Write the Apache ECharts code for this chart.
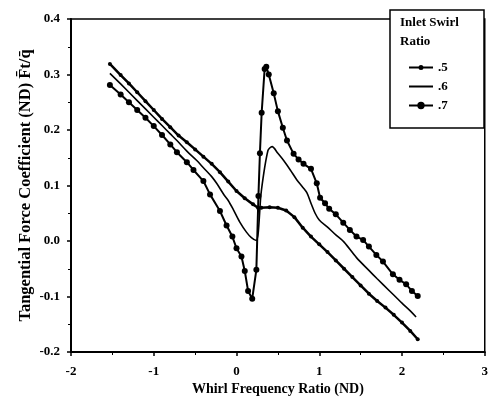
<!DOCTYPE html>
<html>
<head>
<meta charset="utf-8">
<script src="https://cdn.jsdelivr.net/npm/echarts@6/dist/echarts.min.js"></script>
<style>
  html, body { margin: 0; padding: 0; background: #fff; }
  #chart { width: 491px; height: 401px; }
</style>
</head>
<body>
<div id="chart"></div>
<script>
// whirl frequency ratio / tangential force coefficient
const x05 = [-1.53, -1.4, -1.3, -1.2, -1.1, -1.0, -0.9, -0.8, -0.7, -0.6, -0.5, -0.4, -0.3, -0.2, -0.1, 0.0, 0.1, 0.2, 0.26,
  0.3, 0.4, 0.5, 0.6, 0.7, 0.8, 0.9, 1.0, 1.1, 1.2, 1.3, 1.4, 1.5, 1.6, 1.7, 1.8, 1.9, 2.0, 2.1, 2.19];
const y05 = [0.319, 0.299, 0.284, 0.268, 0.252, 0.236, 0.220, 0.205, 0.190, 0.178, 0.165, 0.152, 0.139, 0.124, 0.107, 0.090, 0.077, 0.066, 0.060,
  0.060, 0.061, 0.060, 0.055, 0.043, 0.024, 0.008, -0.006, -0.020, -0.035, -0.050, -0.065, -0.080, -0.095, -0.108, -0.120, -0.133, -0.147, -0.162, -0.177];

const x06 = [-1.53, -1.4, -1.2, -1.0, -0.9, -0.8, -0.72, -0.6, -0.48, -0.4, -0.3, -0.24, -0.15, -0.1, -0.04, 0.04, 0.12, 0.18, 0.24,
  0.3, 0.38, 0.43, 0.5, 0.57, 0.65, 0.73, 0.8, 0.85, 0.9, 0.95, 1.0, 1.1, 1.2, 1.3, 1.45, 1.6, 1.7, 1.85, 2.0, 2.1, 2.17];
const y06 = [0.302, 0.283, 0.253, 0.223, 0.208, 0.193, 0.181, 0.162, 0.145, 0.132, 0.116, 0.104, 0.083, 0.073, 0.057, 0.034, 0.016, 0.006, 0.001,
  0.090, 0.163, 0.170, 0.158, 0.145, 0.128, 0.110, 0.097, 0.087, 0.068, 0.050, 0.038, 0.025, 0.011, -0.002, -0.030, -0.053, -0.068, -0.090, -0.112, -0.126, -0.137];

const x07 = [-1.53, -1.4, -1.3, -1.2, -1.1, -1.0, -0.9, -0.8, -0.72, -0.6, -0.52, -0.4, -0.32, -0.2, -0.12, -0.05, 0.0, 0.06, 0.1, 0.14, 0.19,
  0.24, 0.265, 0.283, 0.304, 0.34, 0.36, 0.39, 0.45, 0.5, 0.56, 0.61, 0.69, 0.75, 0.81, 0.9, 0.97, 1.01, 1.07, 1.12, 1.2, 1.29, 1.37, 1.45,
  1.53, 1.6, 1.69, 1.77, 1.89, 1.97, 2.05, 2.12, 2.19];
const y07 = [0.281, 0.264, 0.250, 0.236, 0.222, 0.207, 0.191, 0.174, 0.160, 0.142, 0.128, 0.108, 0.084, 0.054, 0.028, 0.008, -0.013, -0.028, -0.054, -0.090, -0.104,
  -0.052, 0.081, 0.158, 0.231, 0.310, 0.314, 0.300, 0.266, 0.234, 0.204, 0.181, 0.157, 0.147, 0.139, 0.130, 0.104, 0.078, 0.068, 0.058, 0.048, 0.033, 0.020, 0.008,
  0.002, -0.010, -0.025, -0.037, -0.060, -0.070, -0.078, -0.090, -0.099];

const seriesNames = ['.5', '.6', '.7'];

function pairs(xs, ys) {
  return xs.map((x, i) => [x, ys[i]]);
}

const font = 'Liberation Serif';
const chart = echarts.init(document.getElementById('chart'));

// legend glyphs: line with small dot / plain line / line with big dot
// (circles drawn clockwise like the bar so the fill doesn't cancel out)
const icons = [
  'path://M0,4h24v2h-24z M9.5,5a2.5,2.5 0 1,1 5,0a2.5,2.5 0 1,1 -5,0z',
  'path://M0,4h24v2h-24z',
  'path://M0,4h24v2h-24z M8.3,5a3.7,3.7 0 1,1 7.4,0a3.7,3.7 0 1,1 -7.4,0z'
];

const option = {
  animation: false,
  backgroundColor: '#fff',
  grid: {
    left: 71, right: 3, top: 19, bottom: 44,
    show: true, borderColor: '#000', borderWidth: 1.5
  },
  xAxis: {
    type: 'value', min: -2, max: 3, interval: 1,
    name: 'Whirl Frequency Ratio (ND)',
    nameLocation: 'middle', nameGap: 30, nameMoveOverlap: false,
    nameTextStyle: { fontFamily: font, fontWeight: 'bold', fontSize: 14, color: '#000' },
    axisLine: { onZero: false, lineStyle: { color: '#000', width: 2 } },
    axisTick: { inside: false, length: 4, lineStyle: { color: '#000', width: 1.5 } },
    minorTick: { show: true, splitNumber: 2, length: 3, lineStyle: { color: '#000' } },
    splitLine: { show: false },
    axisLabel: { fontFamily: font, fontWeight: 'bold', fontSize: 13, color: '#000', margin: 13 }
  },
  yAxis: {
    type: 'value', min: -0.2, max: 0.4, interval: 0.1,
    name: 'Tangential Force Coefficient (ND) F\u0304t/q\u0304',
    nameLocation: 'middle', nameGap: 37, nameMoveOverlap: false,
    nameTextStyle: { fontFamily: font, fontWeight: 'bold', fontSize: 16.5, color: '#000' },
    axisLine: { onZero: false, lineStyle: { color: '#000', width: 2 } },
    axisTick: { inside: false, length: 4, lineStyle: { color: '#000', width: 1.5 } },
    minorTick: { show: true, splitNumber: 2, length: 3, lineStyle: { color: '#000' } },
    splitLine: { show: false },
    axisLabel: {
      fontFamily: font, fontWeight: 'bold', fontSize: 13, color: '#000', margin: 11,
      formatter: v => v.toFixed(1)
    }
  },
  legend: {
    orient: 'vertical', left: 404, top: 56, z: 10,
    itemWidth: 24, itemHeight: 10, itemGap: 6,
    itemStyle: { color: '#000', borderWidth: 0 },
    textStyle: { fontFamily: font, fontWeight: 'bold', fontSize: 13, color: '#000' },
    data: seriesNames.map((n, i) => ({ name: n, icon: icons[i] }))
  },
  graphic: [
    { type: 'rect', z: 5, shape: { x: 390, y: 10, width: 94, height: 118 },
      style: { fill: '#fff', stroke: '#000', lineWidth: 1.5 } },
    { type: 'text', z: 6, left: 400, top: 16,
      style: { text: 'Inlet Swirl', font: 'bold 13px "Liberation Serif"', fill: '#000' } },
    { type: 'text', z: 6, left: 400, top: 35,
      style: { text: 'Ratio', font: 'bold 13px "Liberation Serif"', fill: '#000' } }
  ],
  series: [
    {
      name: seriesNames[0], type: 'line', data: pairs(x05, y05),
      symbol: 'circle', symbolSize: 4,
      lineStyle: { color: '#000', width: 2.5 }, itemStyle: { color: '#000' }
    },
    {
      name: seriesNames[1], type: 'line', data: pairs(x06, y06),
      symbol: 'none', smooth: 0.3,
      lineStyle: { color: '#000', width: 1.6 }, itemStyle: { color: '#000' }
    },
    {
      name: seriesNames[2], type: 'line', data: pairs(x07, y07),
      symbol: 'circle', symbolSize: 6,
      lineStyle: { color: '#000', width: 2 }, itemStyle: { color: '#000' }
    }
  ]
};

chart.setOption(option);
</script>
</body>
</html>
